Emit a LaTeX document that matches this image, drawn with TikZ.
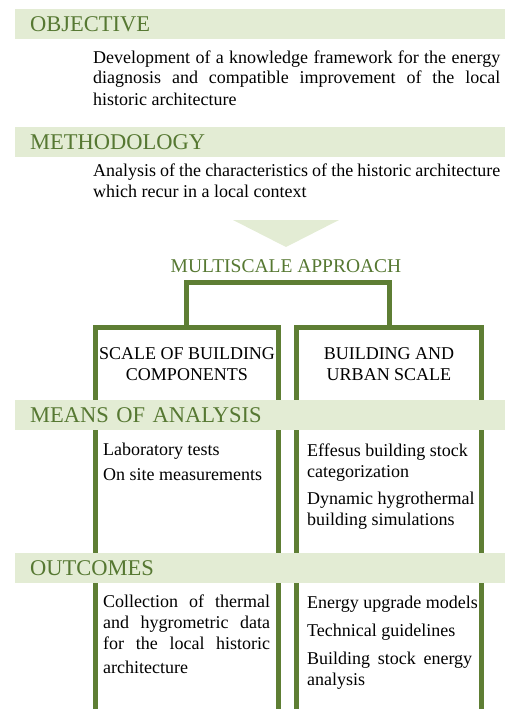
\documentclass[tikz,border=0pt]{standalone}
\usepackage{fontspec}
\setmainfont{Liberation Serif}
\definecolor{headgreen}{RGB}{86,120,50}
\definecolor{linegreen}{RGB}{94,126,52}
\definecolor{bandgreen}{RGB}{227,236,212}

\begin{document}
\begin{tikzpicture}[x=1pt,y=-1pt]

      \useasboundingbox (0,0) rectangle (520,709);
      \clip (0,0) rectangle (520,709);

      \begin{scope}[every node/.style={draw=linegreen,line width=5pt,rectangle,outer sep=0pt,inner sep=0pt,anchor=north west,minimum height=384pt}]
        \node[minimum width=183.5pt] (b1) at (95,327) {};
        \node[minimum width=185pt]   (b2) at (296.5,327) {};
      \end{scope}

      \draw[linegreen,line width=5pt] (b1.north) -- ++(0,-44.5) -| (b2.north);

      \fill[bandgreen] (233,220) -- (339,220) -- (286,247) -- cycle;

      \begin{scope}[every node/.style={fill=bandgreen,text=headgreen,anchor=north west,minimum height=30pt,text width=460pt,inner xsep=15pt,inner ysep=0pt,align=left,text height=15pt,text depth=0pt,font=\fontsize{22.5}{27}\selectfont}]
        \node (h1) at (15,9)   {OBJECTIVE};
        \node (h2) at (15,127) {METHODOLOGY};
        \node (h3) at (15,400) {MEANS OF ANALYSIS};
        \node (h4) at (15,553) {OUTCOMES};
      \end{scope}

      \node[text=headgreen,anchor=base,inner sep=0pt,font=\fontsize{19.5}{23}\selectfont] (m) at (286,272) {MULTISCALE APPROACH};

      \begin{scope}[every node/.style={anchor=base west,align=left,inner sep=0pt,font=\fontsize{18}{21}\selectfont}]
        \node (t1) at (93,105) {\makebox[407pt][s]{Development of a knowledge framework for the energy}\\
          \makebox[407pt][s]{diagnosis and compatible improvement of the local}\\
          historic architecture};
        \node (t2) at (93,197) {\makebox[407pt][s]{Analysis of the characteristics of the historic architecture}\\
          which recur in a local context};

        \node[anchor=base,align=center] (c1) at (187,380) {SCALE OF BUILDING\\COMPONENTS};
        \node[anchor=base,align=center] (c2) at (389,380) {BUILDING AND\\URBAN SCALE};

        \node (l1) at (103,480) {Laboratory tests\\[4pt]On site measurements};
        \node (r1) at (307,525) {Effesus building stock\\categorization\\[6pt]Dynamic hygrothermal\\building simulations};

        \node (l2) at (103,673) {\makebox[167pt][s]{Collection of thermal}\\
          \makebox[167pt][s]{and hygrometric data}\\
          \makebox[167pt][s]{for the local historic}\\[3pt]
          architecture};
        \node (r2) at (307,685) {Energy upgrade models\\[7pt]Technical guidelines\\[7pt]
          \makebox[165pt][s]{Building stock energy}\\
          analysis};
      \end{scope}

    \end{tikzpicture}
\end{document}
